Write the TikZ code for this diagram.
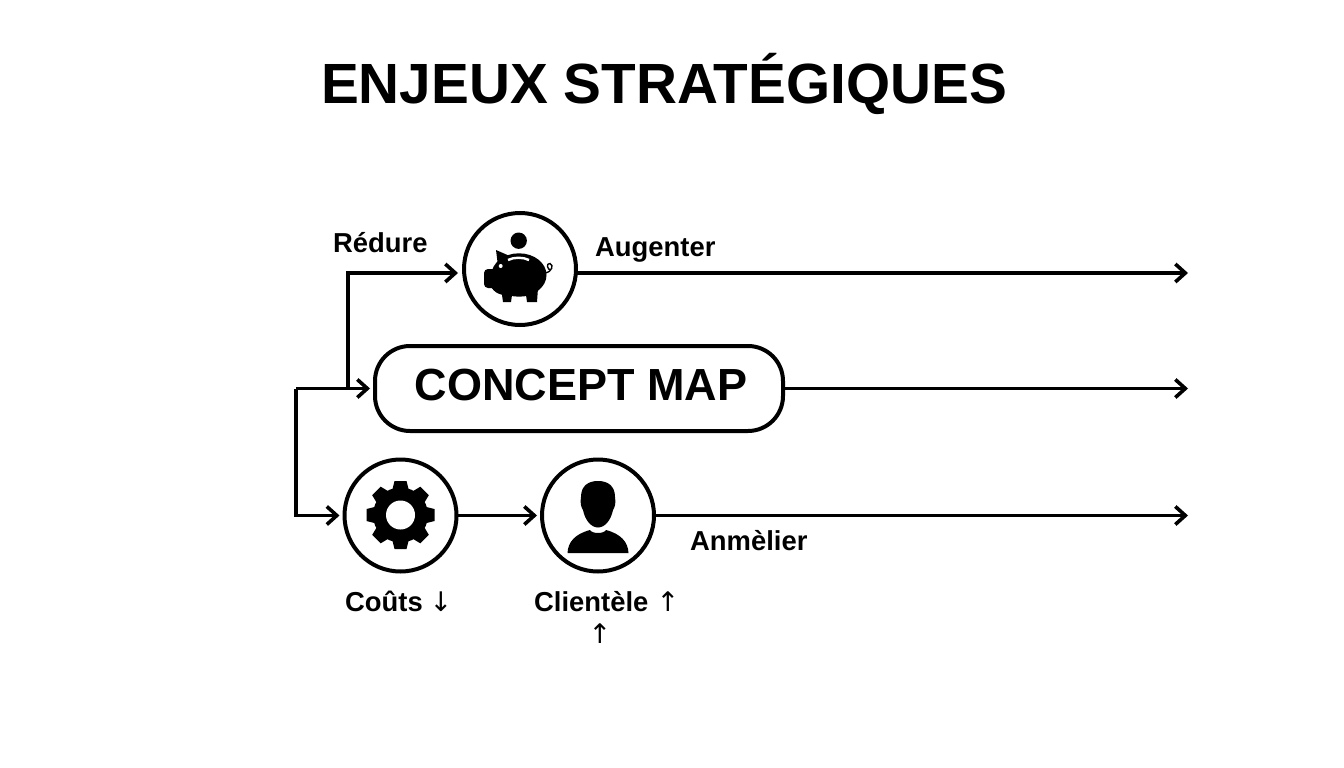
\documentclass[tikz,border=0pt]{standalone}
\usepackage{fontspec}
\setmainfont{Liberation Sans}
\newfontfamily\arrowfont{DejaVu Sans}
\usetikzlibrary{arrows.meta}
\tikzset{
  ring/.style={circle,draw=black,line width=4pt,minimum size=112pt,inner sep=0pt,outer sep=0pt},
  conn/.style={draw=black,line width=3.6pt},
  arr/.style={conn,-{Straight Barb[length=10pt,width=18pt,line width=3.6pt]},shorten >=5pt},
  lbl/.style={font=\fontsize{27.4}{30}\selectfont\bfseries,anchor=base west,inner sep=0pt,text=black},
  arrowlbl/.style={font=\fontsize{27}{30}\selectfont\arrowfont,anchor=base,inner sep=0pt,text=black}
}
\begin{document}
\begin{tikzpicture}[x=1pt,y=-1pt]
\useasboundingbox (0,0) rectangle (1344,768);
\fill[white] (0,0) rectangle (1344,768);
% title
\node[font=\fontsize{56.7}{60}\selectfont\bfseries,anchor=base,inner sep=0pt] (title) at (664,103) {ENJEUX STRATÉGIQUES};
% main shapes
\node[ring] (piggy) at (520,269) {};
\node[ring] (gear) at (400.5,515.5) {};
\node[ring] (person) at (598,515.5) {};
\node[draw=black,line width=4pt,rounded corners=35pt,minimum width=408pt,minimum height=85pt,inner sep=0pt,outer sep=0pt] (concept) at (579,388.5) {};
\node[font=\fontsize{45}{50}\selectfont\bfseries,anchor=base,inner sep=0pt] (cmtext) at (581,400) {CONCEPT MAP};
% free ends
\coordinate (jl) at (296,388.5);
\coordinate (jm) at (348,388.5);
\coordinate (pigin) at (463,273);
\coordinate (pigout) at (577,273);
\coordinate (endA) at (1188,273);
\coordinate (endB) at (1188,388.5);
\coordinate (endC) at (1188,515.5);
% connectors
\draw[arr] (jl) -- (concept.west);
\draw[arr] (jl) |- (gear.west);
\draw[arr] (jm) |- (pigin);
\draw[arr,shorten >=0pt] (pigout) -- (endA);
\draw[arr,shorten >=0pt] (concept.east) -- (endB);
\draw[arr] (gear.east) -- (person.west);
\draw[arr,shorten >=0pt] (person.east) -- (endC);
% labels
\node[lbl] (l1) at (333,252) {Rédure};
\node[lbl] (l2) at (595,256) {Augenter};
\node[lbl] (l3) at (690,550) {Anmèlier};
\node[lbl] (l4) at (345,611) {Coûts};
\node[arrowlbl] (l4a) at (441,611) {↓};
\node[lbl] (l5) at (534,611) {Clientèle};
\node[arrowlbl] (l5a) at (668,611) {↑};
\node[arrowlbl] (l6) at (600,643) {↑};
% piggy icon
\fill (518.7,240.7) circle (8.2pt);
\fill (519,275) ellipse (27.5pt and 21.7pt);
\fill (505,279) circle (16pt);
\fill[rounded corners=4pt] (484,269) rectangle (498,288);
\fill (496,250) -- (512,257) -- (498,266) -- cycle;
\fill (501,288) -- (503,302) -- (511,302) -- (513,288) -- cycle;
\fill (525,288) -- (527,302) -- (537,302) -- (538,288) -- cycle;
\fill[white] (500.7,266) circle (2pt);
\draw[white,line width=2.4pt] (508,260) .. controls (514,257) and (523,257) .. (529,260);
\draw[line width=1.4pt] (545,273) .. controls (552,272) and (554,265) .. (550,263.5) .. controls (546,263) and (547,270) .. (551,270);
% gear icon
\fill (400.5,515) circle (27.5pt);
\foreach \a in {0,45,...,315}{
  \fill[rotate around={\a:(400.5,515)}] (391,495) -- (394.5,481) -- (406.5,481) -- (410,495) -- cycle;
}
\fill[white] (400.5,515) circle (14.5pt);
% person icon
\fill (581,497) .. controls (581,486) and (588,481) .. (598,481) .. controls (608,481) and (615,486) .. (615,497) .. controls (616,503) and (615,507) .. (613,510) .. controls (611,520) and (605,527.5) .. (598,527.5) .. controls (591,527.5) and (585,520) .. (583,510) .. controls (581,507) and (580,503) .. (581,497) -- cycle;
\fill (567.5,553) .. controls (568,542) and (575,534) .. (590,530) .. controls (592,534) and (604,534) .. (606,530) .. controls (621,534) and (628,542) .. (628.5,553) -- cycle;
\end{tikzpicture}
\end{document}
